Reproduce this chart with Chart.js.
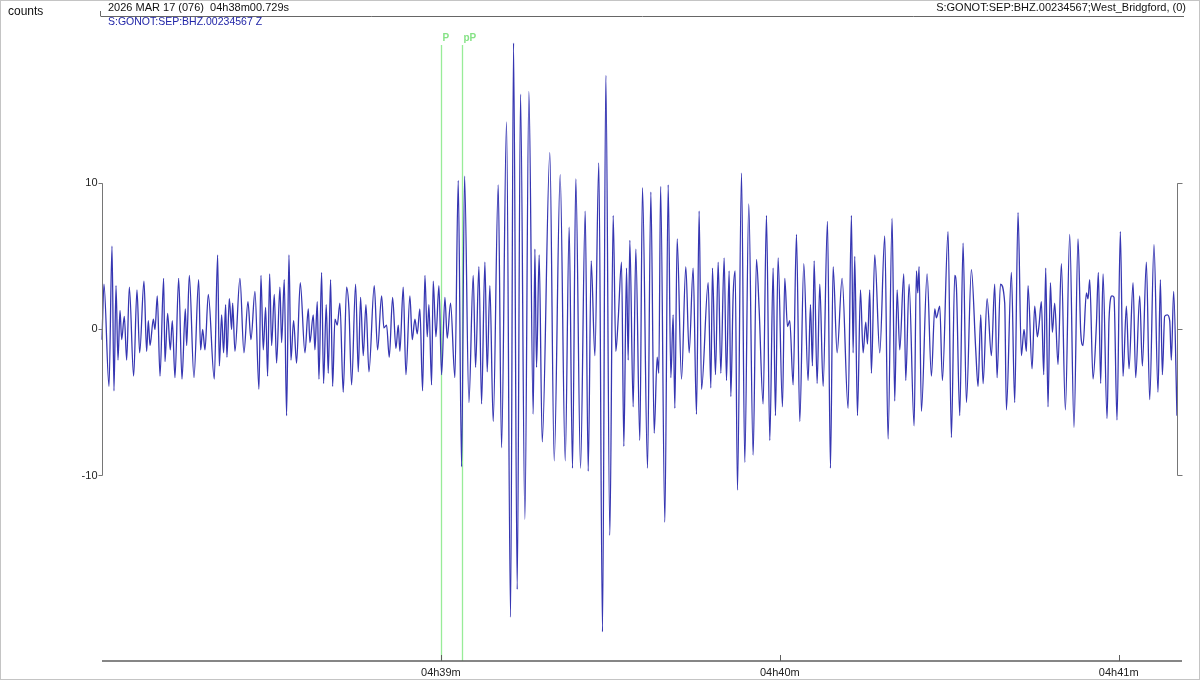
<!DOCTYPE html>
<html>
<head>
<meta charset="utf-8">
<script src="https://cdn.jsdelivr.net/npm/chart.js@4/dist/chart.umd.min.js"></script>
<style>
html, body { margin: 0; padding: 0; background: #fff; }
#wrap { width: 1200px; height: 680px; }
</style>
</head>
<body>
<div id="wrap"><canvas id="seismo" width="1200" height="680"></canvas></div>
<script>
// seconds after 04h38m00s, counts
const sampleTimes = [
  0, 0.35, 1.24, 1.77, 2.12, 2.48, 2.83, 3.19, 3.48, 3.95,
  4.37, 4.84, 5.6, 6.19, 6.67, 7.43, 7.9, 8.2, 8.5, 9.09,
  9.38, 9.79, 10.27, 10.91, 11.15, 11.62, 12.09, 12.45, 12.92, 13.57,
  14.16, 14.75, 14.99, 15.46, 16.28, 17.11, 17.46, 17.82, 18.23, 18.82,
  19.88, 20.47, 20.77, 21.18, 21.53, 21.89, 22.12, 22.54, 22.95, 23.13,
  23.54, 24.42, 25.13, 25.84, 26.37, 27.08, 27.79, 28.14, 28.55, 28.97,
  29.32, 29.68, 30.03, 30.5, 30.91, 31.5, 31.8, 32.27, 32.68, 33.1,
  33.45, 33.92, 34.45, 35.1, 35.93, 36.52, 36.81, 37.4, 37.7, 38.11,
  38.41, 38.88, 39.23, 39.7, 40.06, 40.47, 40.83,
  41.24, 41.65, 42.12, 42.71, 43.3, 43.72, 44.19, 44.9, 45.37, 45.78,
  46.25, 46.73, 47.26, 48.2, 48.79, 49.5, 49.91, 50.38, 50.86, 51.45,
  52.04, 52.45, 52.74, 53.33, 53.81, 54.51, 54.93, 55.4, 55.81, 56.28,
  56.76, 57.17, 57.58, 57.88, 58.35, 58.64, 59.12, 59.65, 60.12, 60.71,
  61.12, 61.71, 62.48, 63.07, 63.66, 64.19, 64.96, 65.72, 66.14, 66.73,
  67.2, 67.79, 68.2, 68.67, 69.26, 70.15, 70.74, 71.62, 72.33, 72.86,
  73.51, 74.1, 74.87, 75.58, 76.34, 76.64, 76.93, 77.4, 77.94, 79.29,
  80.06, 81.12, 82.01, 82.71, 83.3, 83.89, 84.72, 85.55, 86.08, 86.61,
  87.26, 87.96, 88.61, 89.2, 89.91, 90.5, 90.97, 91.39,
  91.98, 92.39, 92.86, 93.16, 93.45, 94.04, 94.51, 95.22, 95.69, 96.58,
  97.17, 97.76, 98.29, 98.58, 98.9, 99.65, 100.24, 100.71, 101.12, 101.42,
  101.83, 102.6, 103.36, 103.95, 104.66, 105.25, 105.72, 106.14, 107.32, 107.79,
  108.08, 108.61, 109.09, 109.56, 110.15, 110.56, 111.03, 111.33, 111.74, 112.1,
  112.51, 113.22, 113.8, 114.51, 115.28, 115.87, 116.34, 117.05, 117.64, 118.23,
  118.82, 119.23, 119.7, 120.47, 120.88, 121.36, 121.77, 122.36, 122.95, 123.54,
  124.25, 125.01, 125.43, 125.78, 126.08, 126.61, 127.08, 127.67, 128.44, 128.97,
  129.44, 130.15, 131.03, 132.09, 132.68, 132.98, 133.27, 133.75, 134.28, 134.75,
  135.22, 135.52, 135.93, 136.22, 136.81,
  137.7, 138.58, 139.17, 139.88, 140.35, 140.77, 141.24, 141.95, 142.3, 142.89,
  143.78, 144.19, 144.43, 144.66, 145.07, 146.08, 146.84, 147.43, 147.73, 148.32,
  148.79, 149.79, 150.38, 150.97, 151.27, 151.86, 152.45, 153.04, 153.92, 154.69,
  155.1, 155.58, 155.99, 156.7, 157.46, 158.05, 158.47, 159.06, 159.82, 160.12,
  161.0, 161.59, 162.18, 162.77, 163.24, 163.66, 163.95, 164.66, 165.13, 165.6,
  165.9, 166.31, 166.73, 167.08, 167.49, 167.91, 168.26, 168.67, 169.26, 169.85,
  170.56, 171.33, 172.09, 172.8, 173.28, 173.69, 174.28, 174.57, 174.87, 175.46,
  176.05, 176.4, 176.81, 177.23, 177.94, 178.29, 178.82, 179.17, 179.7, 180.29,
  180.77, 181.36, 181.83, 182.54, 183.01, 183.72, 184.19, 184.9, 185.49, 186.25,
  186.96, 187.38, 187.73, 188.14, 188.61, 189.03, 189.32, 189.73, 190.32
];
const sampleCounts = [
  -0.7, 3.1, -3.9, 5.7, -4.2, 3.0, -2.1, 1.3, -0.7, 0.9,
  -2.1, 2.9, -3.2, 2.7, -1.6, 3.3, -1.5, 0.6, -1.1, 0.7,
  0, 2.3, -3.2, 3.5, -2.2, 1.1, -1.4, 0.6, -3.3, 3.5,
  -3.4, 1.4, -1.1, 3.7, -3.3, 3.4, -1.4, 0, -1.4, 2.4,
  -3.4, 5.1, -2.5, 1.0, -1.6, 1.7, -1.9, 2.1, 0, 1.8,
  -1.5, 3.5, -1.6, 1.9, -0.7, 2.6, -4.1, 3.7, -1.4, 1.5,
  -3.2, 3.8, -1.1, 2.4, -2.3, 2.9, -0.9, 3.4, -5.9, 5.1,
  -2.1, 0.6, -2.3, 3.2, -1.6, 1.4, -0.9, 1.0, -1.4, 1.9,
  -3.4, 3.9, -3.7, 1.7, -3.0, 3.4, -3.9,
  0.7, 0.3, 1.8, -4.3, 2.9, 1.4, -3.8, 3.1, -2.9, 2.2,
  -1.8, 1.7, -2.9, 3.0, -1.4, 2.3, 0.1, 0.3, -1.9, 2.2,
  -1.3, 0.3, -1.5, 2.9, -3.1, 2.3, -0.7, 0.7, -0.3, 1.4,
  -4.2, 3.7, -0.5, 1.7, -3.8, 3.3, -0.5, 3.0, -3.1, 2.2,
  -0.6, 1.8, -3.3, 10.2, -9.4, 10.5, -5.0, 3.7, -2.6, 4.3,
  -5.1, 4.6, -2.9, 3.0, -6.3, 9.9, -8.1, 14.2, -19.7, 19.6,
  -17.8, 16.1, -13.0, 16.3, -5.8, 5.5, -2.6, 5.1, -7.7, 12.1,
  -9.0, 10.6, -9.0, 7.0, -9.5, 10.3, -9.5, 8.1, -9.7, 4.7,
  -1.8, 11.4, -20.7, 17.4, -14.1, 7.8, -1.5, 0.7,
  4.6, -8.0, 4.2, -2.1, 6.1, -5.3, 5.5, -7.6, 9.7, -9.5,
  9.4, -7.1, -1.9, -3.0, 9.8, -13.2, 9.9, -3.3, 1.0, -5.4,
  6.2, -3.4, 4.3, -1.6, 4.2, -5.8, 8.1, -4.1, 3.2, -4.0,
  4.2, -3.1, 4.6, -3.0, 4.9, -3.5, 4.0, -4.6, 2.3, 4.0,
  -11.0, 10.7, -9.1, 8.6, -8.6, 4.8, 1.4, -5.1, 7.8, -7.6,
  4.2, -5.9, 4.9, -5.3, 3.5, 0.2, 0.6, -3.8, 6.5, -6.3,
  4.5, -3.5, 1.7, -2.5, 4.7, -3.7, 3.1, -3.9, 7.4, -9.5,
  4.3, -1.6, 3.5, -5.4, 7.8, -1.6, 5.0, -5.9, 2.7, -1.6,
  0.5, -1.0, 2.7, -3.0, 5.1,
  -1.6, 6.4, -7.5, 7.6, -4.9, 2.7, -1.4, 3.8, -3.5, 3.1,
  -6.6, 4.0, 2.5, 4.3, -5.6, 3.8, -3.2, 1.4, 0.8, 1.6,
  -3.5, 6.7, -7.4, 3.7, 2.9, -5.9, 5.9, -5.0, 4.1, -1.4,
  -3.9, 1.0, -3.7, 2.1, -1.8, 3.1, -3.3, 3.1, 1.8, -5.5,
  3.9, -5.0, 8.0, -1.8, 0, -1.5, 3.0, -2.7, 1.6, -0.5,
  0.3, 1.9, -3.1, 4.2, -5.3, 3.2, -0.2, 1.8, -2.4, 4.5,
  -5.5, 6.5, -6.7, 6.2, -0.2, -1.1, 2.5, 2.1, 3.4, -3.4,
  0.3, 3.9, -3.7, 3.8, -6.1, 0.7, 2.3, 2.2, -6.2, 6.7,
  -3.2, 1.6, -2.7, 3.2, -3.3, 2.3, -2.5, 4.6, -4.8, 5.8,
  -4.3, 3.4, -3.1, 0.9, 1.0, 0.6, -2.1, 2.6, -5.9
];

const phaseNames = ['P', 'pP'];
const phaseTimes = [60.0, 63.77];

const timeTicks = [60, 120, 180];
const timeLabels = ['04h39m', '04h40m', '04h41m'];
const countTicks = [10, 0, -10];
const countLabels = ['10', '0', '-10'];

const startLabel = '2026 MAR 17 (076)  04h38m00.729s';
const channelLabel = 'S:GONOT:SEP:BHZ.00234567 Z';
const stationLabel = 'S:GONOT:SEP:BHZ.00234567;West_Bridgford, (0)';
const unitLabel = 'counts';

const FONT = '"Liberation Sans", Arial, sans-serif';

const seismoDecor = {
  id: 'seismoDecor',
  beforeDatasetsDraw(chart) {
    const ctx = chart.ctx;
    const xs = chart.scales.x;
    const area = chart.chartArea;
    ctx.save();
    ctx.strokeStyle = '#98ec98';
    ctx.lineWidth = 1.3;
    ctx.fillStyle = '#86e286';
    ctx.font = 'bold 10px ' + FONT;
    ctx.textBaseline = 'alphabetic';
    phaseTimes.forEach((t, i) => {
      const px = Math.round(xs.getPixelForValue(t)) + 0.5;
      ctx.beginPath();
      ctx.moveTo(px, 45);
      ctx.lineTo(px, area.bottom);
      ctx.stroke();
      ctx.fillText(phaseNames[i], px + 1, 41);
    });
    ctx.restore();
  },
  afterDraw(chart) {
    const ctx = chart.ctx;
    const xs = chart.scales.x;
    const ys = chart.scales.y;
    const area = chart.chartArea;
    ctx.save();

    // outer frame
    ctx.strokeStyle = '#c4c4c4';
    ctx.lineWidth = 1;
    ctx.strokeRect(0.5, 0.5, chart.width - 1, chart.height - 1);

    // header
    ctx.fillStyle = '#111';
    ctx.font = '12px ' + FONT;
    ctx.textAlign = 'left';
    ctx.textBaseline = 'alphabetic';
    ctx.fillText(unitLabel, 8, 15);
    ctx.font = '11px ' + FONT;
    ctx.fillText(startLabel, 108, 11);
    ctx.textAlign = 'right';
    ctx.fillText(stationLabel, area.right + 8, 11);
    ctx.textAlign = 'left';
    ctx.font = '10.5px ' + FONT;
    ctx.fillStyle = '#2226a8';
    ctx.fillText(channelLabel, 108, 25);

    ctx.strokeStyle = '#666';
    ctx.beginPath();
    ctx.moveTo(area.left - 1, 16.5);
    ctx.lineTo(area.right + 6, 16.5);
    ctx.moveTo(area.left - 1.5, 16.5);
    ctx.lineTo(area.left - 1.5, 11);
    ctx.stroke();

    // count axes, left and right, only between the labelled ticks
    const yTop = ys.getPixelForValue(countTicks[0]);
    const yBot = ys.getPixelForValue(countTicks[countTicks.length - 1]);
    ctx.strokeStyle = '#767676';
    ctx.lineWidth = 1;
    const lx = area.left + 0.5;
    const rx = area.right - 0.5;
    ctx.beginPath();
    ctx.moveTo(lx, yTop); ctx.lineTo(lx, yBot);
    ctx.moveTo(rx, yTop); ctx.lineTo(rx, yBot);
    countTicks.forEach(v => {
      const py = Math.round(ys.getPixelForValue(v)) + 0.5;
      ctx.moveTo(lx - 4, py); ctx.lineTo(lx, py);
      ctx.moveTo(rx, py); ctx.lineTo(rx + 5, py);
    });
    ctx.stroke();
    ctx.fillStyle = '#222';
    ctx.font = '11px ' + FONT;
    ctx.textAlign = 'right';
    ctx.textBaseline = 'middle';
    countTicks.forEach((v, i) => {
      ctx.fillText(countLabels[i], lx - 5, ys.getPixelForValue(v));
    });

    // time axis
    ctx.strokeStyle = '#5e5e5e';
    ctx.lineWidth = 1.6;
    ctx.beginPath();
    ctx.moveTo(area.left, area.bottom);
    ctx.lineTo(area.right + 4, area.bottom);
    ctx.stroke();
    ctx.lineWidth = 1;
    ctx.beginPath();
    timeTicks.forEach(t => {
      const px = Math.round(xs.getPixelForValue(t)) + 0.5;
      ctx.moveTo(px, area.bottom - 6);
      ctx.lineTo(px, area.bottom);
    });
    ctx.stroke();
    ctx.fillStyle = '#222';
    ctx.textAlign = 'center';
    ctx.textBaseline = 'middle';
    timeTicks.forEach((t, i) => {
      ctx.fillText(timeLabels[i], xs.getPixelForValue(t), area.bottom + 12);
    });

    ctx.restore();
  }
};

new Chart(document.getElementById('seismo'), {
  type: 'line',
  data: {
    datasets: [{
      label: channelLabel,
      data: sampleTimes.map((t, i) => ({ x: t, y: sampleCounts[i] })),
      borderColor: '#3636b2',
      borderWidth: 1.3,
      pointRadius: 0,
      cubicInterpolationMode: 'monotone',
      fill: false,
      clip: false
    }]
  },
  options: {
    responsive: false,
    animation: false,
    devicePixelRatio: 1,
    layout: { padding: { left: 102, right: 22, top: 30, bottom: 19 } },
    scales: {
      x: { type: 'linear', display: false, min: 0, max: 190.5 },
      y: { type: 'linear', display: false, min: -22.7, max: 20.5 }
    },
    plugins: {
      legend: { display: false },
      tooltip: { enabled: false }
    }
  },
  plugins: [seismoDecor]
});
</script>
</body>
</html>
